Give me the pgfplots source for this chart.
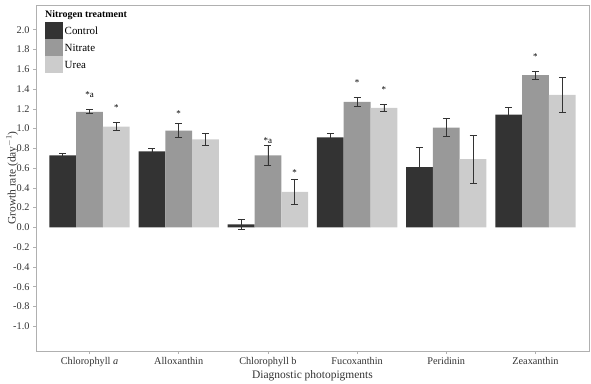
\documentclass[border=0pt]{standalone}
\usepackage{fontspec}
\setmainfont{Liberation Serif}
\usepackage{pgfplots}
\pgfplotsset{compat=1.18}
\definecolor{cctrl}{HTML}{333333}
\definecolor{cnit}{HTML}{999999}
\definecolor{curea}{HTML}{CCCCCC}
\definecolor{frame}{HTML}{B0B0B0}
\begin{document}
\begin{tikzpicture}
\begin{axis}[
  scale only axis,
  width=553bp, height=346bp,
  xmin=-0.6, xmax=5.6,
  ymin=-1.25, ymax=2.25,
  ybar=0pt, bar width=26.8bp,
  xtick={0,1,2,3,4,5},
  xticklabels={Chlorophyll \textit{a},Alloxanthin,Chlorophyll b,Fucoxanthin,Peridinin,Zeaxanthin},
  ytick={-1,-0.8,-0.6,-0.4,-0.2,0,0.2,0.4,0.6,0.8,1.0,1.2,1.4,1.6,1.8,2.0},
  yticklabel style={/pgf/number format/.cd, fixed, fixed zerofill, precision=1, assume math mode=true},
  tick label style={font=\fontsize{10.3}{11}\selectfont, text=black!80},
  axis line style={frame},
  tick style={frame, line width=0.6pt},
  tick align=outside, major tick length=3bp,
  xtick pos=bottom, ytick pos=left,
  xlabel={Diagnostic photopigments},
  ylabel={Growth rate (day$^{-1}$)},
  label style={font=\fontsize{11.5}{12}\selectfont, text=black!80},
  xlabel style={yshift=3bp},
  ylabel style={at={(axis description cs:-0.043,0.5)}, anchor=center},
  error bars/y dir=both, error bars/y explicit,
  error bars/error bar style={black!80, line width=0.7pt},
  error bars/error mark options={rotate=90, mark size=3.5bp, line width=0.7pt, black!80},
  legend style={draw=none, fill=none, at={(rel axis cs:0.0163,0.951)}, anchor=north west,
    inner sep=0pt, row sep=0pt, font=\fontsize{11}{12}\selectfont,
    nodes={inner sep=1.5bp, text depth=0pt}},
  legend cell align=left,
]
\addplot[fill=cctrl, draw=none, legend image code/.code={\fill[cctrl] (0bp,-8.5bp) rectangle (18bp,8.5bp);}]
 coordinates {(0,0.73) +- (0,0.02) (1,0.77) +- (0,0.03) (2,0.03) +- (0,0.05) (3,0.91) +- (0,0.04) (4,0.61) +- (0,0.20) (5,1.14) +- (0,0.07)};
\addplot[fill=cnit, draw=none, legend image code/.code={\fill[cnit] (0bp,-8.5bp) rectangle (18bp,8.5bp);}]
 coordinates {(0,1.17) +- (0,0.02) (1,0.98) +- (0,0.07) (2,0.73) +- (0,0.10) (3,1.27) +- (0,0.045) (4,1.01) +- (0,0.09) (5,1.54) +- (0,0.04)};
\addplot[fill=curea, draw=none, legend image code/.code={\fill[curea] (0bp,-8.5bp) rectangle (18bp,8.5bp);}]
 coordinates {(0,1.02) +- (0,0.04) (1,0.89) +- (0,0.06) (2,0.36) +- (0,0.13) (3,1.21) +- (0,0.035) (4,0.69) +- (0,0.24) (5,1.34) +- (0,0.18)};
\legend{Control,Nitrate,Urea}
\node[anchor=north west, font=\fontsize{10}{11}\selectfont\bfseries, inner sep=0pt] at (rel axis cs:0.0163,0.984) {Nitrogen treatment};
\begin{scope}[every node/.style={font=\fontsize{9}{10}\selectfont, inner sep=0pt}]
\node at (axis cs:0,1.34) {*a};
\node at (axis cs:0.3,1.21) {*};
\node at (axis cs:1,1.15) {*};
\node at (axis cs:2,0.88) {*a};
\node at (axis cs:2.3,0.56) {*};
\node at (axis cs:3,1.47) {*};
\node at (axis cs:3.3,1.39) {*};
\node at (axis cs:5,1.73) {*};
\end{scope}
\end{axis}
\pgfresetboundingbox
\path (-36bp,-33bp) rectangle (555bp,351bp);
\end{tikzpicture}
\end{document}
